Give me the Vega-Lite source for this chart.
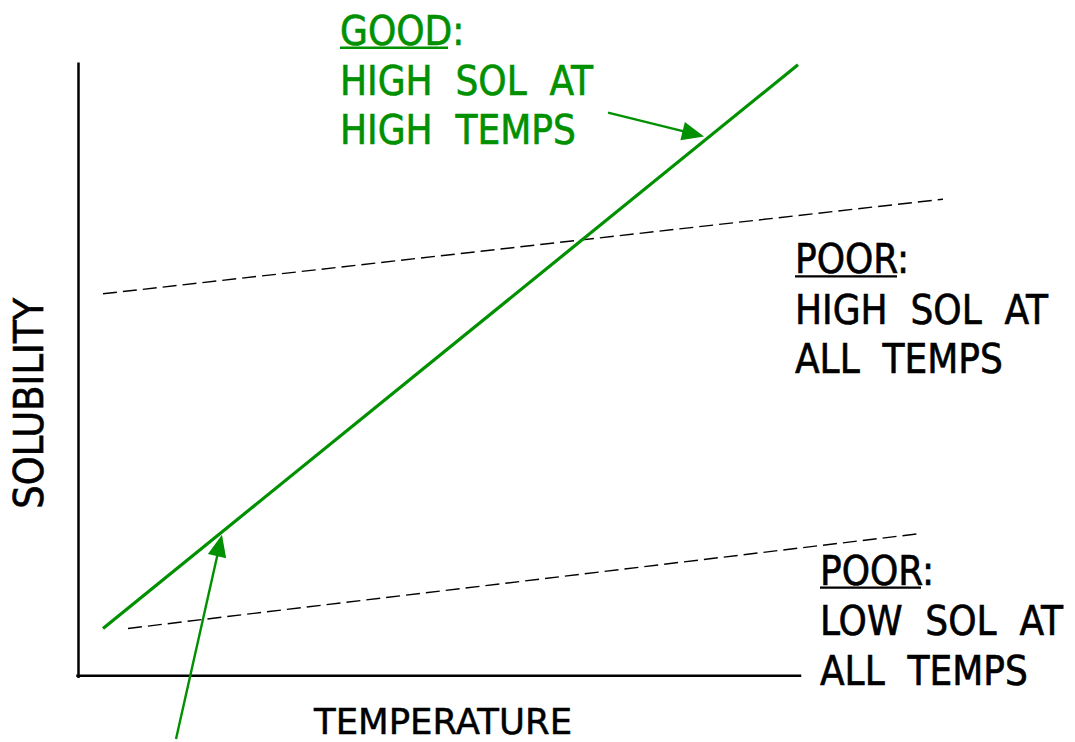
{
  "$schema": "https://vega.github.io/schema/vega-lite/v6.json",
  "width": 1075,
  "height": 742,
  "autosize": {"type": "fit", "contains": "padding"},
  "padding": 0,
  "background": "white",
  "config": {"view": {"stroke": null}},
  "datasets": {
    "segments": [
      {"kind": "axis", "x": 78.5, "y": 64, "x2": 78.5, "y2": 679.5},
      {"kind": "axis", "x": 77.5, "y": 678.5, "x2": 800, "y2": 678.5},
      {"kind": "good", "x": 103, "y": 631, "x2": 798, "y2": 65},
      {"kind": "poor", "x": 103, "y": 295, "x2": 943, "y2": 200},
      {"kind": "poor", "x": 128, "y": 631, "x2": 918, "y2": 536},
      {"kind": "arrow", "x": 608, "y": 113, "x2": 694, "y2": 134.5},
      {"kind": "arrow", "x": 176, "y": 742, "x2": 219.5, "y2": 548},
      {"kind": "ulgreen", "x": 340, "y": 48, "x2": 448, "y2": 48},
      {"kind": "ulblack", "x": 795, "y": 277.5, "x2": 897, "y2": 277.5},
      {"kind": "ulblack", "x": 820, "y": 590, "x2": 921, "y2": 590}
    ],
    "heads": [
      {"arrow": "toLine", "x": 693.3, "y": 134.4},
      {"arrow": "fromBelow", "x": 219.5, "y": 547.7}
    ],
    "labels": [
      {"group": "green", "text": "GOOD:", "x": 340, "y": 45},
      {"group": "green", "text": "HIGH\u00a0\u00a0SOL\u00a0\u00a0AT", "x": 340, "y": 95},
      {"group": "green", "text": "HIGH\u00a0\u00a0TEMPS", "x": 340, "y": 145},
      {"group": "black", "text": "POOR:", "x": 795, "y": 274},
      {"group": "black", "text": "HIGH\u00a0\u00a0SOL\u00a0\u00a0AT", "x": 795, "y": 325},
      {"group": "black", "text": "ALL\u00a0\u00a0TEMPS", "x": 795, "y": 375},
      {"group": "black", "text": "POOR:", "x": 820, "y": 587},
      {"group": "black", "text": "LOW\u00a0\u00a0SOL\u00a0\u00a0AT", "x": 820, "y": 638},
      {"group": "black", "text": "ALL\u00a0\u00a0TEMPS", "x": 820, "y": 688},
      {"group": "xtitle", "text": "TEMPERATURE", "x": 443, "y": 737},
      {"group": "ytitle", "text": "SOLUBILITY", "x": 43, "y": 405}
    ]
  },
  "layer": [
    {
      "data": {"name": "segments"},
      "transform": [{"filter": "datum.kind === 'axis'"}],
      "mark": {"type": "rule", "color": "black", "strokeWidth": 2.5, "strokeCap": "square"},
      "encoding": {
        "x": {"field": "x", "type": "quantitative", "scale": {"domain": [0, 1075], "nice": false, "zero": false}, "axis": null},
        "y": {"field": "y", "type": "quantitative", "scale": {"domain": [0, 742], "nice": false, "zero": false, "reverse": true}, "axis": null},
        "x2": {"field": "x2"},
        "y2": {"field": "y2"}
      }
    },
    {
      "data": {"name": "segments"},
      "transform": [{"filter": "datum.kind === 'poor'"}],
      "mark": {"type": "rule", "color": "black", "strokeWidth": 1.4, "strokeDash": [14, 6]},
      "encoding": {
        "x": {"field": "x", "type": "quantitative"},
        "y": {"field": "y", "type": "quantitative"},
        "x2": {"field": "x2"},
        "y2": {"field": "y2"}
      }
    },
    {
      "data": {"name": "segments"},
      "transform": [{"filter": "datum.kind === 'good'"}],
      "mark": {"type": "rule", "color": "#009000", "strokeWidth": 3.2},
      "encoding": {
        "x": {"field": "x", "type": "quantitative"},
        "y": {"field": "y", "type": "quantitative"},
        "x2": {"field": "x2"},
        "y2": {"field": "y2"}
      }
    },
    {
      "data": {"name": "segments"},
      "transform": [{"filter": "datum.kind === 'arrow' || datum.kind === 'ulgreen'"}],
      "mark": {"type": "rule", "color": "#009000", "strokeWidth": 2.4},
      "encoding": {
        "x": {"field": "x", "type": "quantitative"},
        "y": {"field": "y", "type": "quantitative"},
        "x2": {"field": "x2"},
        "y2": {"field": "y2"}
      }
    },
    {
      "data": {"name": "segments"},
      "transform": [{"filter": "datum.kind === 'ulblack'"}],
      "mark": {"type": "rule", "color": "black", "strokeWidth": 2.4},
      "encoding": {
        "x": {"field": "x", "type": "quantitative"},
        "y": {"field": "y", "type": "quantitative"},
        "x2": {"field": "x2"},
        "y2": {"field": "y2"}
      }
    },
    {
      "data": {"name": "heads"},
      "transform": [{"filter": "datum.arrow === 'toLine'"}],
      "mark": {"type": "point", "shape": "M0,-1L-0.85,1L0.85,1Z", "filled": true, "color": "#009000", "opacity": 1, "size": 484, "angle": 104},
      "encoding": {
        "x": {"field": "x", "type": "quantitative"},
        "y": {"field": "y", "type": "quantitative"}
      }
    },
    {
      "data": {"name": "heads"},
      "transform": [{"filter": "datum.arrow === 'fromBelow'"}],
      "mark": {"type": "point", "shape": "M0,-1L-0.85,1L0.85,1Z", "filled": true, "color": "#009000", "opacity": 1, "size": 484, "angle": 13},
      "encoding": {
        "x": {"field": "x", "type": "quantitative"},
        "y": {"field": "y", "type": "quantitative"}
      }
    },
    {
      "data": {"name": "labels"},
      "transform": [{"filter": "datum.group === 'green'"}],
      "mark": {"type": "text", "align": "left", "baseline": "alphabetic", "font": "DejaVu Sans Condensed", "fontSize": 40, "fill": "#009000", "stroke": "#009000", "strokeWidth": 0.6},
      "encoding": {
        "x": {"field": "x", "type": "quantitative"},
        "y": {"field": "y", "type": "quantitative"},
        "text": {"field": "text"}
      }
    },
    {
      "data": {"name": "labels"},
      "transform": [{"filter": "datum.group === 'black'"}],
      "mark": {"type": "text", "align": "left", "baseline": "alphabetic", "font": "DejaVu Sans Condensed", "fontSize": 40, "fill": "black", "stroke": "black", "strokeWidth": 0.6},
      "encoding": {
        "x": {"field": "x", "type": "quantitative"},
        "y": {"field": "y", "type": "quantitative"},
        "text": {"field": "text"}
      }
    },
    {
      "data": {"name": "labels"},
      "transform": [{"filter": "datum.group === 'xtitle'"}],
      "mark": {"type": "text", "align": "center", "baseline": "alphabetic", "font": "DejaVu Sans", "fontSize": 35.5, "fill": "black", "stroke": "black", "strokeWidth": 0.5},
      "encoding": {
        "x": {"field": "x", "type": "quantitative"},
        "y": {"field": "y", "type": "quantitative"},
        "text": {"field": "text"}
      }
    },
    {
      "data": {"name": "labels"},
      "transform": [{"filter": "datum.group === 'ytitle'"}],
      "mark": {"type": "text", "align": "center", "baseline": "alphabetic", "angle": 270, "font": "DejaVu Sans Condensed", "fontSize": 41, "fill": "black", "stroke": "black", "strokeWidth": 0.6},
      "encoding": {
        "x": {"field": "x", "type": "quantitative"},
        "y": {"field": "y", "type": "quantitative"},
        "text": {"field": "text"}
      }
    }
  ]
}
